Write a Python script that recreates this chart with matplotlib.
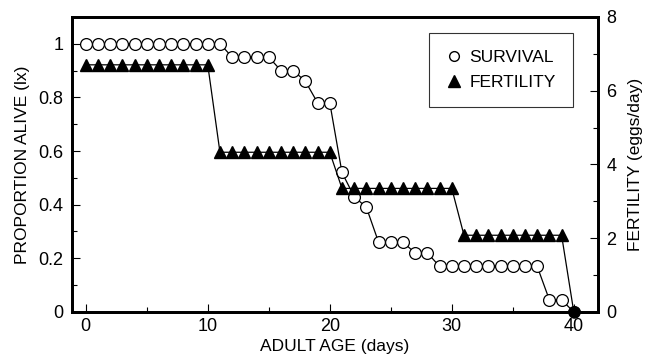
import numpy as np
import matplotlib
matplotlib.use("Agg")
import matplotlib.pyplot as plt
from matplotlib.lines import Line2D

plt.rcParams['font.family'] = ['Liberation Sans', 'DejaVu Sans']

# Survival (lx) by adult age
surv_days = list(range(0, 41))
survival = [1.0] * 12 + [0.95] * 4 + [0.90, 0.90, 0.86, 0.78, 0.78,
            0.52, 0.43, 0.39, 0.26, 0.26, 0.26, 0.22, 0.22] + [0.17] * 9 + [0.045, 0.045, 0.0]

# Fertility (eggs/day) by adult age
fert_days = list(range(0, 41))
fertility = [6.7] * 11 + [4.33] * 10 + [3.35] * 10 + [2.08] * 9 + [0.0]

fig = plt.figure(figsize=(6.46, 3.59), dpi=100)
ax = fig.add_axes([0.111, 0.131, 0.815, 0.822])
ax2 = ax.twinx()

ax.plot(surv_days, survival, color='black', lw=0.9, marker='o', ms=8.5,
        mfc='white', mec='black', mew=0.9, zorder=3)
# last point (both at zero) shows as a solid dot
ax.plot(surv_days[-1:], survival[-1:], ls='none', marker='o', ms=8,
        mfc='black', mec='black', zorder=4, clip_on=False)
ax2.plot(fert_days, fertility, color='black', lw=0.9, marker='^', ms=8.5,
         mfc='black', mec='black', zorder=2)

ax.set_xlim(-1.15, 42)
ax.set_ylim(0, 1.1)
ax2.set_ylim(0, 8)

ax.set_xticks([0, 10, 20, 30, 40])
ax.set_xticks([5, 15, 25, 35], minor=True)
ax.set_yticks([0, 0.2, 0.4, 0.6, 0.8, 1])
ax.set_yticklabels(['0', '0.2', '0.4', '0.6', '0.8', '1'])
ax.set_yticks(np.arange(0.1, 1.1, 0.2), minor=True)
ax2.set_yticks([0, 2, 4, 6, 8])
ax2.set_yticks([1, 3, 5, 7], minor=True)

for a in (ax, ax2):
    a.tick_params(which='both', direction='in', labelsize=13, pad=6)
    a.tick_params(which='major', length=6, width=0.8)
    a.tick_params(which='minor', length=3.5, width=0.8)
    for s in a.spines.values():
        s.set_linewidth(2)
ax.tick_params(axis='x', pad=4)

ax.set_xlabel('ADULT AGE (days)', fontsize=12.5, labelpad=3)
ax.set_ylabel('PROPORTION ALIVE (lx)', fontsize=12.5, labelpad=6)
ax2.set_ylabel('FERTILITY (eggs/day)', fontsize=12.5, labelpad=8)

handles = [Line2D([], [], ls='none', marker='o', ms=7, mfc='white', mec='black'),
           Line2D([], [], ls='none', marker='^', ms=9, mfc='black', mec='black')]
leg = ax2.legend(handles, ['SURVIVAL', 'FERTILITY'], loc='upper right',
                 bbox_to_anchor=(0.952, 0.946), fontsize=12.5, frameon=True,
                 fancybox=False, edgecolor='black', handlelength=0.8,
                 handletextpad=0.5, borderpad=1.0, labelspacing=0.55,
                 borderaxespad=0)
leg.get_frame().set_linewidth(0.8)

fig.savefig('out.png', dpi=100)
